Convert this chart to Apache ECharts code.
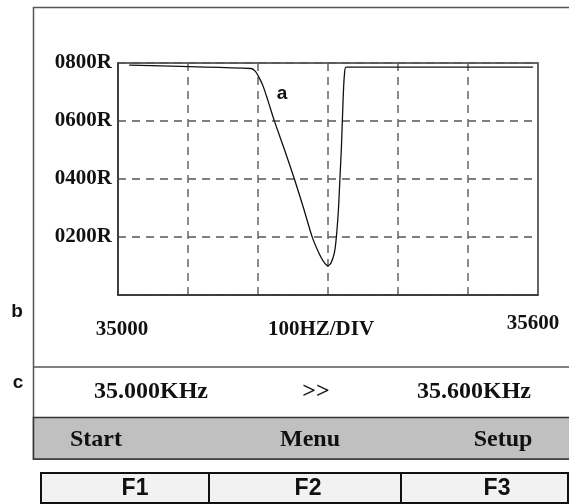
<!DOCTYPE html>
<html>
<head>
<meta charset="utf-8">
<script src="https://cdn.jsdelivr.net/npm/echarts@6/dist/echarts.min.js"></script>
<style>
html,body{margin:0;padding:0;background:#fff;}
#chart{width:569px;height:504px;}
</style>
</head>
<body>
<div id="chart"></div>
<script>
// ---- data ----
const freqHz = [35016,35190,35196,35201,35207,35214,35223,35238,35252,35265,35277,35286,35293,35300,35304,35309,35312,35315,35317,35319,35320.5,35322,35323.5,35326,35593];
const resistance = [793,781,772,752,722,672,603,500,400,300,203,150,118,101,109,144,201,299,400,500,600,700,760,786,786];
const yTickValues = [200,400,600,800];
const yTickLabels = ['0200R','0400R','0600R','0800R'];
const xTickValues = [35000,35300,35600];
const xTickLabels = ['35000','100HZ/DIV','35600'];
const rangeTexts = ['35.000KHz','>>','35.600KHz'];
const menuTexts = ['Start','Menu','Setup'];
const keyTexts = ['F1','F2','F3'];
const sideLabels = ['a','b','c'];

const serif = '"Liberation Serif","Times New Roman",serif';
const sans = '"Liberation Sans",Arial,sans-serif';

const chart = echarts.init(document.getElementById('chart'), null, {renderer:'canvas'});

const xRich = {
  l:{fontFamily:serif,fontWeight:'bold',fontSize:21,color:'#111',padding:[6,0,0,8]},
  m:{fontFamily:serif,fontWeight:'bold',fontSize:21,color:'#111',padding:[6,14,0,0]},
  r:{fontFamily:serif,fontWeight:'bold',fontSize:21,color:'#111',padding:[0,10,0,0]}
};
const xKeys = ['l','m','r'];

const rangeX = [151,316,474];
const menuX = [96,310,503];
const keyX = [135,308,497];

const graphics = [
  {type:'rect',shape:{x:33.5,y:7.5,width:560,height:451.5},style:{fill:'#fff',stroke:'#555',lineWidth:1.5},z:-10,silent:true},
  {type:'line',shape:{x1:33.5,y1:367,x2:569,y2:367},style:{stroke:'#555',lineWidth:1.5},z:-9},
  {type:'rect',shape:{x:33.5,y:417.5,width:560,height:41.5},style:{fill:'#c0c0c0',stroke:'#333',lineWidth:1.5},z:-9},
  {type:'rect',shape:{x:41,y:473,width:527,height:30},style:{fill:'#f2f2f2',stroke:'#111',lineWidth:2},z:-9},
  {type:'line',shape:{x1:209,y1:473,x2:209,y2:503},style:{stroke:'#111',lineWidth:2},z:-8},
  {type:'line',shape:{x1:401,y1:473,x2:401,y2:503},style:{stroke:'#111',lineWidth:2},z:-8},
  {type:'text',x:282,y:94,style:{text:sideLabels[0],font:'bold 19px '+sans,fill:'#111',align:'center',verticalAlign:'middle'},z:10},
  {type:'text',x:17,y:312,style:{text:sideLabels[1],font:'bold 19px '+sans,fill:'#111',align:'center',verticalAlign:'middle'}},
  {type:'text',x:18,y:383,style:{text:sideLabels[2],font:'bold 19px '+sans,fill:'#111',align:'center',verticalAlign:'middle'}}
];
rangeTexts.forEach((t,i)=>graphics.push({type:'text',x:rangeX[i],y:392,style:{text:t,font:'bold 24px '+serif,fill:'#111',align:'center',verticalAlign:'middle'}}));
menuTexts.forEach((t,i)=>graphics.push({type:'text',x:menuX[i],y:440,style:{text:t,font:'bold 24px '+serif,fill:'#111',align:'center',verticalAlign:'middle'}}));
keyTexts.forEach((t,i)=>graphics.push({type:'text',x:keyX[i],y:489,style:{text:t,font:'bold 23px '+sans,fill:'#111',align:'center',verticalAlign:'middle'}}));

const option = {
  animation:false,
  backgroundColor:'#fff',
  grid:{left:118,top:63,width:420,height:232,show:true,borderColor:'#333',borderWidth:1.5,backgroundColor:'transparent'},
  xAxis:{
    type:'value',min:35000,max:35600,interval:100,
    axisLine:{show:true,lineStyle:{color:'#333',width:1.5}},
    axisTick:{show:false},
    splitLine:{show:true,lineStyle:{color:'#666',width:1.5,type:[8,6]}},
    axisLabel:{
      margin:18,
      formatter:function(v){const i=xTickValues.indexOf(v);return i<0?'':'{'+xKeys[i]+'|'+xTickLabels[i]+'}';},
      rich:xRich
    }
  },
  yAxis:{
    type:'value',min:0,max:800,interval:200,
    axisLine:{show:true,lineStyle:{color:'#333',width:1.5}},
    axisTick:{show:false},
    splitLine:{show:true,lineStyle:{color:'#555',width:1.5,type:[8,6]}},
    axisLabel:{
      margin:6,fontFamily:serif,fontWeight:'bold',fontSize:21,color:'#111',
      formatter:function(v){const i=yTickValues.indexOf(v);return i<0?'':yTickLabels[i];}
    }
  },
  series:[{
    type:'line',
    data:freqHz.map((f,i)=>[f,resistance[i]]),
    showSymbol:false,
    smooth:0.25,
    lineStyle:{color:'#111',width:1.3},
    z:5
  }],
  graphic:graphics
};
chart.setOption(option);
</script>
</body>
</html>
